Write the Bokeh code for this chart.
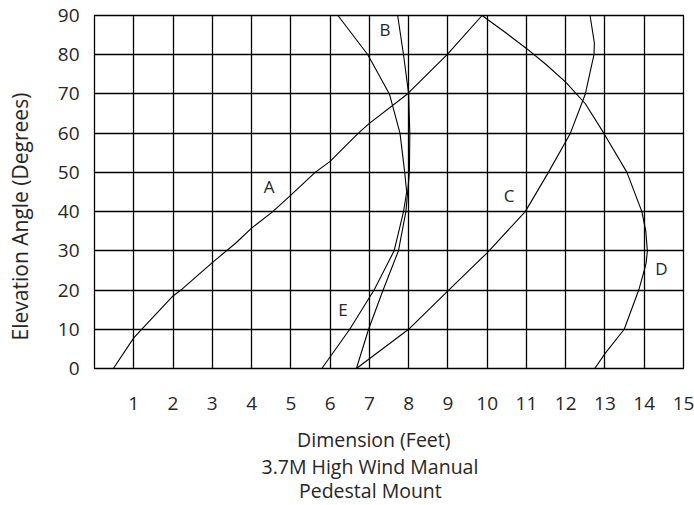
from bokeh.plotting import figure
from bokeh.models import Range1d, FixedTicker, Title
from bokeh.core.properties import value
from bokeh.embed import file_html
from bokeh.resources import INLINE

# ---- data ----
x_ticks = list(range(1, 16))
y_ticks = [0, 10, 20, 30, 40, 50, 60, 70, 80, 90]

a_x = [0.48, 1.0, 1.2, 2.0, 2.2, 3.0, 3.6, 4.0, 4.54, 5.0, 5.62, 6.0, 6.72, 7.0, 7.97, 8.98, 9.87]
a_y = [0, 7.8, 10, 18.5, 20, 27, 32, 35.8, 40, 44.2, 50, 52.8, 60, 62.5, 70, 80, 90]

b_x = [7.72, 7.87, 8.0, 8.03, 8.02, 7.93, 7.74, 7.35, 6.98, 6.67]
b_y = [90, 80, 70, 60, 50, 40, 30, 20, 10, 0]

c_x = [6.67, 8.0, 9.02, 10.0, 10.97, 11.56, 12.12, 12.5, 12.72, 12.73, 12.62]
c_y = [0, 10, 20, 29.5, 40, 50, 60, 70, 80, 83, 90]

d_x = [9.87, 10.5, 11.0, 11.5, 12.0, 12.5, 12.97, 13.56, 13.94, 14.04, 14.08, 14.05, 14.0, 13.86, 13.49, 13.0, 12.74]
d_y = [90, 85.4, 81.6, 77.5, 73, 67.5, 60, 50, 40, 35, 30, 27, 25, 20, 10, 3.8, 0]

e_x = [6.2, 6.96, 7.51, 7.78, 7.9, 7.95, 7.87, 7.63, 7.12, 6.5, 5.79]
e_y = [90, 80, 70, 60, 50, 45, 40, 30, 20, 10, 0]

curve_names = ["A", "B", "C", "D", "E"]
name_x = [4.45, 7.40, 10.56, 14.44, 6.33]
name_y = [46.5, 86.5, 44.2, 25.6, 15.1]

x_title = "Dimension (Feet)"
x_sub1 = "3.7M High Wind Manual"
x_sub2 = "Pedestal Mount"
y_title = "Elevation Angle (Degrees)"

FONT = "Open Sans"
TXT = "#262626"
FS = "19px"
NB = "\u00a0"

p = figure(width=694, height=505, output_backend="svg", toolbar_location=None,
           x_range=Range1d(0, 15), y_range=Range1d(0, 90),
           min_border_left=94, min_border_right=11, min_border_top=15, min_border_bottom=137)
p.background_fill_color = "white"
p.border_fill_color = "white"
p.outline_line_color = "black"
p.outline_line_width = 1.3

p.xgrid.ticker = FixedTicker(ticks=list(range(0, 16)))
p.ygrid.ticker = FixedTicker(ticks=y_ticks)
for g in (p.xgrid, p.ygrid):
    g.grid_line_color = "black"
    g.grid_line_width = 1.3
    g.grid_line_alpha = 1.0

p.xaxis.ticker = FixedTicker(ticks=x_ticks)
p.yaxis.ticker = FixedTicker(ticks=y_ticks)
for ax in (p.xaxis, p.yaxis):
    ax.axis_line_color = None
    ax.major_tick_line_color = None
    ax.minor_tick_line_color = None
    ax.major_tick_out = 0
    ax.major_tick_in = 0
    ax.major_label_text_font = FONT
    ax.major_label_text_font_size = FS
    ax.major_label_text_color = TXT
    ax.axis_label_text_font = FONT
    ax.axis_label_text_font_style = "normal"
    ax.axis_label_text_color = TXT
p.xaxis.major_label_standoff = 28
p.yaxis.major_label_standoff = 15

# axis titles; trailing no-break spaces shift the centred text to where the reference has it
p.yaxis.axis_label = y_title + NB * 9
p.yaxis.axis_label_text_font_size = "21px"
p.yaxis.axis_label_standoff = 21
p.xaxis.axis_label = x_title + NB * 6
p.xaxis.axis_label_text_font_size = "19.5px"
p.xaxis.axis_label_standoff = 13

for xs, ys in ((a_x, a_y), (b_x, b_y), (c_x, c_y), (d_x, d_y), (e_x, e_y)):
    p.line(xs, ys, line_color="black", line_width=1.1)

p.text(x=name_x, y=name_y, text=curve_names, text_font=value(FONT), text_font_size="17px",
       text_color=TXT, text_align="center", text_baseline="middle")

def mk_title(text, offset, standoff):
    return Title(text=text, align="left", offset=offset, standoff=standoff,
                 vertical_align="bottom", text_font=FONT, text_font_size="19.5px",
                 text_font_style="normal", text_color=TXT)

p.add_layout(mk_title(x_sub1, 167, -8.8), "below")
p.add_layout(mk_title(x_sub2, 204.5, -1), "below")

open("out.html", "w").write(file_html(p, INLINE))
